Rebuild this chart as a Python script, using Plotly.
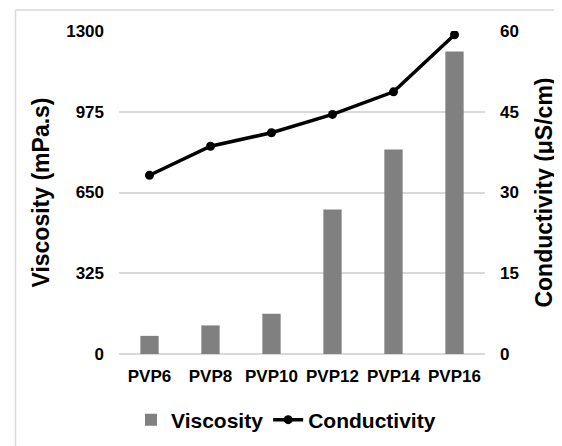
import plotly.graph_objects as go

categories = ["PVP6", "PVP8", "PVP10", "PVP12", "PVP14", "PVP16"]
viscosity = [73, 115, 162, 582, 823, 1217]
conductivity = [33.2, 38.6, 41.1, 44.5, 48.7, 59.3]
visc_ticks = [0, 325, 650, 975, 1300]
cond_ticks = [0, 15, 30, 45, 60]

FONT = "Liberation Sans, Arial, sans-serif"

fig = go.Figure()
fig.add_trace(go.Bar(
    x=categories, y=viscosity, name="Viscosity",
    marker=dict(color="#808080", line=dict(width=0)),
    width=0.3, yaxis="y",
))
fig.add_trace(go.Scatter(
    x=categories, y=conductivity, name="Conductivity",
    mode="lines+markers",
    line=dict(color="#000000", width=3.5),
    marker=dict(color="#000000", size=9),
    yaxis="y2",
))

# The page body adds an 8px offset; figure is sized so it ends at the window edge.
OFF = 8
W, H = 562 - OFF, 446 - OFF
ml, mr, mt, mb = 119 - OFF, 77, 31 - OFF, 92
pw, ph = W - ml - mr, H - mt - mb

def px_x(px):
    return (px - OFF - ml) / pw

def px_y(py):
    return (H - mb - (py - OFF)) / ph

tickfont = dict(family=FONT, size=17, color="#000000", weight="bold")
titlefont = dict(family=FONT, size=23, color="#000000", weight="bold")

fig.update_layout(
    width=W, height=H,
    margin=dict(l=ml, r=mr, t=mt, b=mb, pad=0, autoexpand=False),
    paper_bgcolor="white", plot_bgcolor="white",
    showlegend=True,
    legend=dict(
        orientation="h", x=px_x(286), y=px_y(420),
        xanchor="center", yanchor="middle",
        font=dict(family=FONT, size=21, color="#000000", weight="bold"),
        tracegroupgap=0,
    ),
    xaxis=dict(
        type="category", showgrid=False, zeroline=False, automargin=False,
        showline=False, ticks="", ticklabelstandoff=10, tickangle=0,
        tickfont=tickfont,
    ),
    yaxis=dict(
        range=[0, 1300], tickvals=visc_ticks, ticktext=[str(v) for v in visc_ticks],
        showgrid=True, gridcolor="#d9d9d9", gridwidth=1.5, automargin=False,
        zeroline=True, zerolinecolor="#d9d9d9", zerolinewidth=2,
        showline=False, ticks="", ticklabelstandoff=14,
        tickfont=tickfont,
        title=dict(text="Viscosity (mPa.s)", standoff=10, font=titlefont),
    ),
    yaxis2=dict(
        range=[0, 60], tickvals=cond_ticks, ticktext=[str(v) for v in cond_ticks],
        overlaying="y", side="right", showgrid=False, zeroline=False, automargin=False,
        showline=False, ticks="", ticklabelstandoff=14,
        tickfont=tickfont,
        title=dict(text="Conductivity (μS/cm)", standoff=17, font=titlefont),
    ),
    shapes=[
        dict(type="line", xref="paper", yref="paper",
             x0=px_x(15.5), x1=px_x(600), y0=px_y(10), y1=px_y(10),
             line=dict(color="#d9d9d9", width=1.5)),
        dict(type="line", xref="paper", yref="paper",
             x0=px_x(15.5), x1=px_x(15.5), y0=px_y(10), y1=px_y(480),
             line=dict(color="#d9d9d9", width=1.5)),
    ],
)

fig.write_html("out.html")
